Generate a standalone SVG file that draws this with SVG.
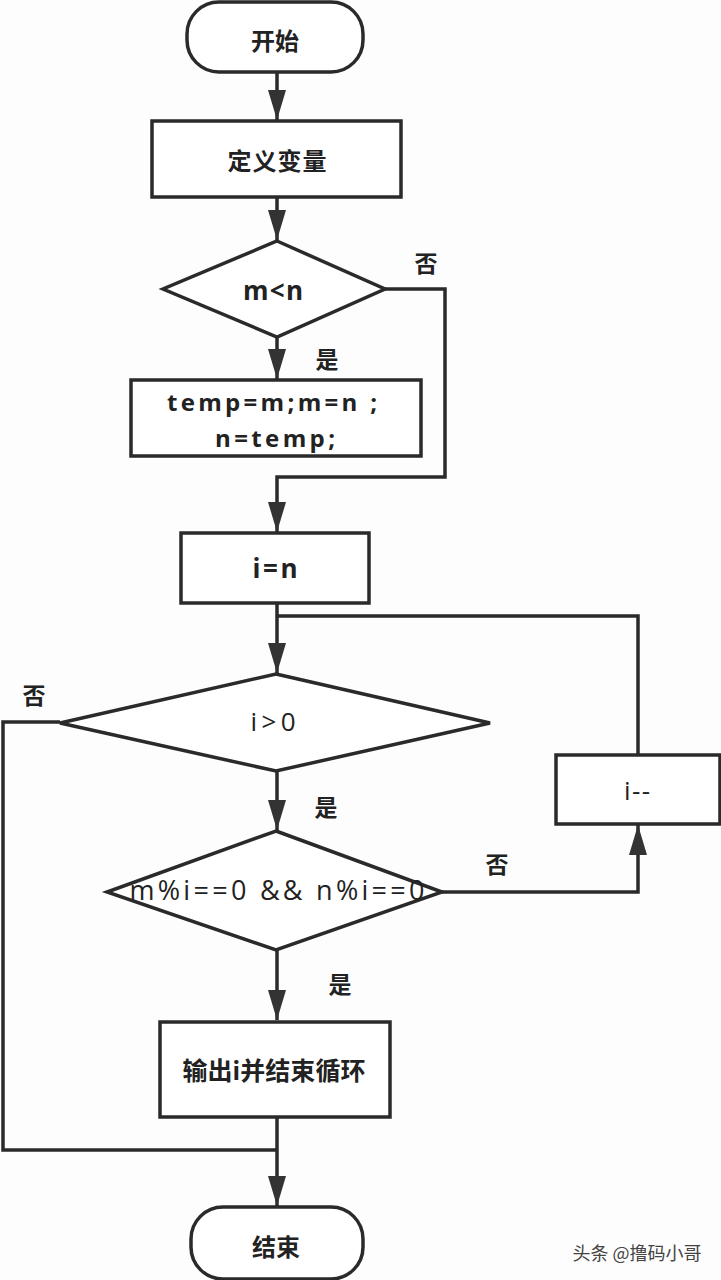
<svg xmlns="http://www.w3.org/2000/svg" width="721" height="1280" viewBox="0 0 721 1280">
<defs>
<marker id="arr" viewBox="0 0 30 18" refX="30" refY="9" markerWidth="30" markerHeight="18" markerUnits="userSpaceOnUse" orient="auto">
<path d="M0,0 L30,9 L0,18 Z" fill="#333"/>
</marker>
<style>
.shape{fill:#fff;stroke:#2a2a2a;stroke-width:3.5}
.conn{fill:none;stroke:#2a2a2a;stroke-width:3.5}
.t{font-family:"Noto Sans CJK SC","Noto Sans",sans-serif;fill:#222;text-anchor:middle;dominant-baseline:central}
.l{font-family:"Open Sans","Noto Sans CJK SC",sans-serif;fill:#222;text-anchor:middle;dominant-baseline:central}
.b{font-weight:bold}
.lbl{font-family:"Noto Sans CJK SC",sans-serif;font-weight:bold;fill:#222;font-size:23px;text-anchor:middle;dominant-baseline:central}
</style>
</defs>
<rect width="721" height="1280" fill="#fdfdfd"/>
<g id="connectors">
<line class="conn" x1="277" y1="72" x2="277" y2="120" marker-end="url(#arr)"/>
<line class="conn" x1="277" y1="197" x2="277" y2="240" marker-end="url(#arr)"/>
<line class="conn" x1="277" y1="337" x2="277" y2="379" marker-end="url(#arr)"/>
<polyline class="conn" points="385,289 445,289 445,477 277,477 277,532" marker-end="url(#arr)"/>
<line class="conn" x1="277" y1="603" x2="277" y2="673" marker-end="url(#arr)"/>
<polyline class="conn" points="638,755 638,616 277,616"/>
<line class="conn" x1="277" y1="771" x2="277" y2="830" marker-end="url(#arr)"/>
<polyline class="conn" points="442,892 638,892 638,825" marker-end="url(#arr)"/>
<line class="conn" x1="277" y1="950" x2="277" y2="1020" marker-end="url(#arr)"/>
<polyline class="conn" points="60,722 3,722 3,1150 277,1150"/>
<line class="conn" x1="277" y1="1117" x2="277" y2="1206" marker-end="url(#arr)"/>
<text class="lbl" x="426" y="262">否</text>
<text class="lbl" x="327" y="358">是</text>
<text class="lbl" x="34" y="694">否</text>
<text class="lbl" x="326" y="806">是</text>
<text class="lbl" x="497" y="863">否</text>
<text class="lbl" x="340" y="983">是</text>
</g>
<g id="start">
<rect class="shape" x="187" y="2" width="176" height="70" rx="32"/>
<text class="t b" x="275" y="39" font-size="24">开始</text>
</g>
<g id="define">
<rect class="shape" x="152" y="121" width="249" height="76"/>
<text class="t b" x="277" y="159" font-size="24" textLength="99" lengthAdjust="spacing">定义变量</text>
</g>
<g id="cond1">
<polygon class="shape" points="277,241 385,289 277,337 163,289"/>
<text class="l b" x="273" y="290" font-size="26" textLength="60" lengthAdjust="spacing">m&lt;n</text>
</g>
<g id="swap">
<rect class="shape" x="131" y="380" width="290" height="76"/>
<text class="l b" x="272" y="401" font-size="24" textLength="210" lengthAdjust="spacing">temp=m;m=n ;</text>
<text class="l b" x="275" y="437" font-size="24" textLength="120" lengthAdjust="spacing">n=temp;</text>
</g>
<g id="init">
<rect class="shape" x="181" y="533" width="188" height="70"/>
<text class="l b" x="275" y="568" font-size="26" textLength="45" lengthAdjust="spacing">i=n</text>
</g>
<g id="cond2">
<polygon class="shape" points="276,674 490,723 276,771 60,723"/>
<text class="l" x="273" y="721" font-size="26" textLength="45" lengthAdjust="spacing">i&gt;0</text>
</g>
<g id="cond3">
<polygon class="shape" points="276,831 442,892 276,950 107,892"/>
<text class="l" x="277" y="889" font-size="27" textLength="295" lengthAdjust="spacing">m%i==0 &amp;&amp; n%i==0</text>
</g>
<g id="dec">
<rect class="shape" x="556" y="755" width="164" height="69"/>
<text class="l" x="637" y="790" font-size="26" textLength="26" lengthAdjust="spacing">i--</text>
</g>
<g id="output">
<rect class="shape" x="160" y="1022" width="230" height="95"/>
<text class="t b" x="274" y="1069" font-size="25" textLength="183" lengthAdjust="spacing">输出i并结束循环</text>
</g>
<g id="end">
<rect class="shape" x="191" y="1207" width="172" height="72" rx="32"/>
<text class="t b" x="276" y="1245" font-size="24">结束</text>
</g>
<text x="637" y="1252" font-family="Noto Sans CJK SC,sans-serif" font-size="18" fill="#444" text-anchor="middle" dominant-baseline="central">头条 @撸码小哥</text>
</svg>
